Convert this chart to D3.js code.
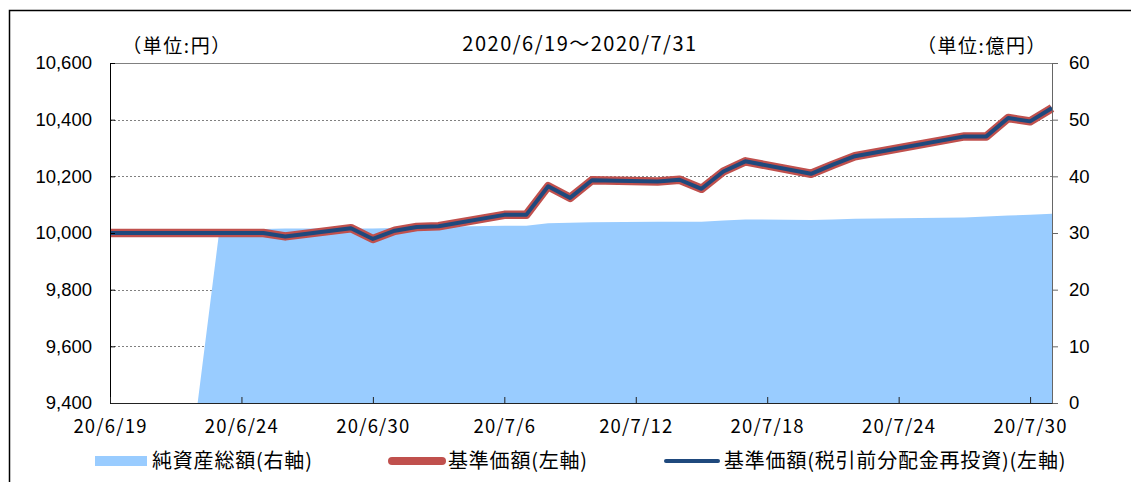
<!DOCTYPE html>
<html>
<head>
<meta charset="utf-8">
<script src="https://cdn.jsdelivr.net/npm/d3@7"></script>
<style>
  html, body { margin: 0; padding: 0; background: #fff; }
  svg { display: block; }
  .jp { font-family: "Noto Sans CJK JP", sans-serif; }
</style>
</head>
<body>
<div id="chart"></div>
<script>
// 日付（営業日）
const dates = [
  '2020-06-18', '2020-06-19', '2020-06-22', '2020-06-23', '2020-06-24', '2020-06-25', '2020-06-26',
  '2020-06-29', '2020-06-30', '2020-07-01', '2020-07-02', '2020-07-03',
  '2020-07-06', '2020-07-07', '2020-07-08', '2020-07-09', '2020-07-10',
  '2020-07-13', '2020-07-14', '2020-07-15', '2020-07-16', '2020-07-17',
  '2020-07-20', '2020-07-21', '2020-07-22',
  '2020-07-27', '2020-07-28', '2020-07-29', '2020-07-30', '2020-07-31'
]
// 純資産総額（億円, 右軸）
const netAssets = [
  0, 0, 0, 30.7, 30.7, 30.7, 30.8,
  30.8, 30.8, 30.9, 31.0, 31.1,
  31.3, 31.3, 31.7, 31.8, 31.9,
  32.0, 32.0, 32.0, 32.2, 32.4,
  32.3, 32.4, 32.5,
  32.75, 32.9, 33.1, 33.2, 33.4
]
// 基準価額（円, 左軸）
const basePrice = [
  10000, 10000, 10000, 10000, 10000, 10000, 9988,
  10017, 9979, 10008, 10021, 10024,
  10064, 10064, 10165, 10124, 10186,
  10182, 10188, 10156, 10217, 10253,
  10209, 10241, 10271,
  10341, 10341, 10406, 10394, 10441
]
// 基準価額（税引前分配金再投資, 左軸）
const basePriceReinvested = [
  10000, 10000, 10000, 10000, 10000, 10000, 9988,
  10017, 9979, 10008, 10021, 10024,
  10064, 10064, 10165, 10124, 10186,
  10182, 10188, 10156, 10217, 10253,
  10209, 10241, 10271,
  10341, 10341, 10406, 10394, 10441
]
const xTickDates = ['2020-06-18', '2020-06-24', '2020-06-30', '2020-07-06', '2020-07-12', '2020-07-18', '2020-07-24', '2020-07-30']
const xTickLabels = ['20/6/19', '20/6/24', '20/6/30', '20/7/6', '20/7/12', '20/7/18', '20/7/24', '20/7/30']
const leftTicks = [9400, 9600, 9800, 10000, 10200, 10400, 10600]
const rightTicks = [0, 10, 20, 30, 40, 50, 60]

const width = 1131
const height = 482
const margin = { top: 63, right: 79, bottom: 79, left: 110 }
const parse = d3.utcParse('%Y-%m-%d')

const svg = d3.select('#chart')
  .append('svg')
  .attr('width', width)
  .attr('height', height)

// 外枠
svg.append('rect')
  .attr('x', 9.5).attr('y', 10.5)
  .attr('width', 1300).attr('height', 600)
  .attr('fill', 'none').attr('stroke', '#000').attr('stroke-width', 1.5)

const x = d3.scaleUtc()
  .domain([parse('2020-06-18'), parse('2020-07-31')])
  .range([margin.left, width - margin.right])
const yL = d3.scaleLinear().domain([9400, 10600]).range([height - margin.bottom, margin.top])
const yR = d3.scaleLinear().domain([0, 60]).range([height - margin.bottom, margin.top])

const rows = dates.map((d, i) => ({
  date: parse(d),
  nav: netAssets[i],
  price: basePrice[i],
  reinv: basePriceReinvested[i]
}))

// grid lines
svg.append('g')
  .selectAll('line')
  .data(leftTicks.slice(1))
  .join('line')
  .attr('x1', margin.left).attr('x2', width - margin.right)
  .attr('y1', d => Math.round(yL(d)) + 0.5).attr('y2', d => Math.round(yL(d)) + 0.5)
  .attr('stroke', '#808080')
  .attr('stroke-dasharray', d => d === 10600 ? null : '2,2')

// net assets area
svg.append('path')
  .datum(rows)
  .attr('fill', '#99CCFF')
  .attr('d', d3.area()
    .x(d => x(d.date))
    .y0(yR(0))
    .y1(d => yR(d.nav)))

// lines
svg.append('path')
  .datum(rows)
  .attr('fill', 'none')
  .attr('stroke', '#C0504D')
  .attr('stroke-width', 8.5)
  .attr('stroke-linejoin', 'round')
  .attr('d', d3.line().x(d => x(d.date)).y(d => yL(d.price)))

svg.append('path')
  .datum(rows)
  .attr('fill', 'none')
  .attr('stroke', '#1F497D')
  .attr('stroke-width', 4)
  .attr('stroke-linejoin', 'round')
  .attr('d', d3.line().x(d => x(d.date)).y(d => yL(d.reinv)))

// axes
const leftAxis = svg.append('g')
  .attr('transform', `translate(${margin.left},0)`)
  .call(d3.axisLeft(yL).tickValues(leftTicks).tickFormat(d3.format(',')).tickSizeInner(-5).tickSizeOuter(0).tickPadding(18))
leftAxis.select('.domain').attr('stroke', '#000')
leftAxis.selectAll('.tick line').attr('stroke', '#000')
leftAxis.selectAll('text').attr('font-family', '"Liberation Sans", Arial, sans-serif').attr('font-size', 18.5).attr('fill', '#000')

const rightAxis = svg.append('g')
  .attr('transform', `translate(${width - margin.right},0)`)
  .call(d3.axisRight(yR).tickValues(rightTicks).tickSizeInner(6).tickSizeOuter(0).tickPadding(11))
rightAxis.select('.domain').attr('stroke', '#666')
rightAxis.selectAll('.tick line').attr('stroke', '#666')
rightAxis.selectAll('text').attr('font-family', '"Liberation Sans", Arial, sans-serif').attr('font-size', 18.5).attr('fill', '#000')

const bottomAxis = svg.append('g')
  .attr('transform', `translate(0,${height - margin.bottom})`)
  .call(d3.axisBottom(x).tickValues(xTickDates.map(parse)).tickFormat((d, i) => xTickLabels[i]).tickSizeInner(-6).tickSizeOuter(0).tickPadding(17))
bottomAxis.select('.domain').attr('stroke', '#222')
bottomAxis.selectAll('.tick line').attr('stroke', '#222')
bottomAxis.selectAll('text')
  .attr('font-family', '"Noto Sans CJK JP", sans-serif')
  .attr('font-size', 18.5)
  .attr('letter-spacing', 1.2)
  .attr('fill', '#000')

// titles
svg.append('text').attr('class', 'jp')
  .attr('x', 580).attr('y', 51)
  .attr('text-anchor', 'middle').attr('font-size', 20).attr('letter-spacing', 1.5)
  .text('2020/6/19～2020/7/31')
svg.append('text').attr('class', 'jp')
  .attr('x', 177).attr('y', 53)
  .attr('text-anchor', 'middle').attr('font-size', 19).attr('letter-spacing', 1.5)
  .text('（単位:円）')
svg.append('text').attr('class', 'jp')
  .attr('x', 982).attr('y', 53)
  .attr('text-anchor', 'middle').attr('font-size', 19).attr('letter-spacing', 1.5)
  .text('（単位:億円）')

// legend
const legend = svg.append('g').attr('class', 'jp').attr('font-size', 20).attr('letter-spacing', 0.8)
legend.append('rect').attr('x', 95).attr('y', 456).attr('width', 52).attr('height', 10).attr('fill', '#99CCFF')
legend.append('text').attr('x', 152).attr('y', 468).text('純資産総額(右軸)')
legend.append('line').attr('x1', 392).attr('x2', 442).attr('y1', 461).attr('y2', 461)
  .attr('stroke', '#C0504D').attr('stroke-width', 8).attr('stroke-linecap', 'round')
legend.append('text').attr('x', 448).attr('y', 468).text('基準価額(左軸)')
legend.append('line').attr('x1', 666).attr('x2', 718).attr('y1', 461).attr('y2', 461)
  .attr('stroke', '#1F497D').attr('stroke-width', 4).attr('stroke-linecap', 'round')
legend.append('text').attr('x', 724).attr('y', 468).text('基準価額(税引前分配金再投資)(左軸)')
</script>
</body>
</html>
